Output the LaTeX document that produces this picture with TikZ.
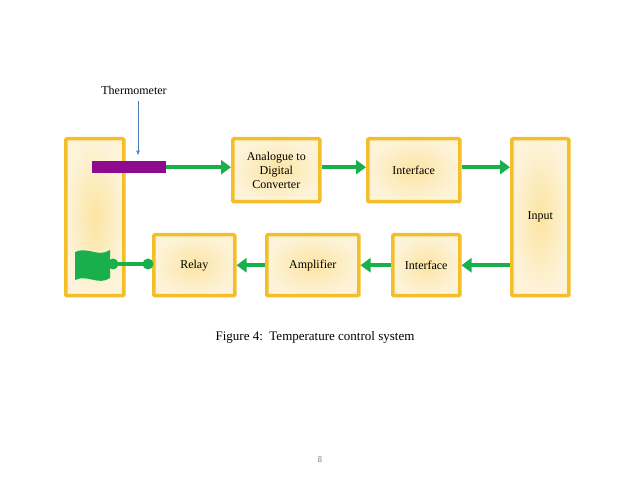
\documentclass[tikz,border=0pt]{standalone}
\usepackage{fontspec}
\setmainfont{Liberation Serif}
\usetikzlibrary{arrows.meta}
\definecolor{bord}{HTML}{F4BE2A}
\definecolor{fillc}{HTML}{FCEBC0}
\definecolor{inner}{HTML}{FAD97A}
\definecolor{grn}{HTML}{19B04B}
\definecolor{purp}{HTML}{8E0A8E}
\definecolor{tharr}{HTML}{4F7EC0}
\tikzset{
 blk/.style={draw=bord,line width=3.5pt,inner color=inner!70,outer color=fillc!60,rounded corners=1pt,font=\fontsize{12}{14}\selectfont,align=center,anchor=north west},
 ga/.style={draw=grn,line width=4pt,-{Triangle[length=10pt,width=14pt]}},
}
\begin{document}
\begin{tikzpicture}[x=1pt,y=-1pt]
\useasboundingbox (0,0) rectangle (638,478);
\node[blk,minimum width=58pt,minimum height=157pt] (L) at (64,137) {};
\node[blk,minimum width=87pt,minimum height=63pt] (adc) at (231,137) {Analogue to\\Digital\\Converter};
\node[blk,minimum width=92pt,minimum height=63pt] (if1) at (366,137) {Interface};
\node[blk,minimum width=57pt,minimum height=157pt] (in) at (510,137) {Input};
\node[blk,minimum width=81pt,minimum height=61pt] (rel) at (152,233) {Relay};
\node[blk,minimum width=92pt,minimum height=61pt] (amp) at (265,233) {Amplifier};
\node[blk,minimum width=67pt,minimum height=61pt] (if2) at (391,233) {Interface};
\node[fill=purp,minimum width=74pt,minimum height=12pt,inner sep=0,anchor=north west] (bar) at (92,161) {};
\node[font=\fontsize{12}{14}\selectfont] (th) at (134,90) {Thermometer};
\draw[draw=tharr,-{Stealth[length=5pt]}] (138,101) -- (138,155);
\draw[ga] (bar.east) -- (adc.west|-bar.east);
\draw[ga] (adc.east|-bar.east) -- (if1.west|-bar.east);
\draw[ga] (if1.east|-bar.east) -- (in.west|-bar.east);
\draw[ga] (in.west|-if2.west) -- (if2.east);
\draw[ga] (if2.west) -- (amp.east);
\draw[ga] (amp.west) -- (rel.east);
\coordinate (d1) at (148,264);
\coordinate (d2) at (113,264);
\draw[grn,line width=4pt] (d1) -- (d2);
\fill[grn] (d1) circle (5.5pt) (d2) circle (5.5pt);
\fill[grn] (75,252) .. controls (88,246) and (98,258) .. (110,250) -- (110,278) .. controls (98,286) and (88,274) .. (75,280) -- cycle;
\node[font=\fontsize{13}{15}\selectfont] (cap) at (315,337) {Figure 4:\ \ Temperature control system};
\node[font=\sffamily\fontsize{9}{11}\selectfont,text=gray] (pg) at (320,460) {8};
\end{tikzpicture}
\end{document}
